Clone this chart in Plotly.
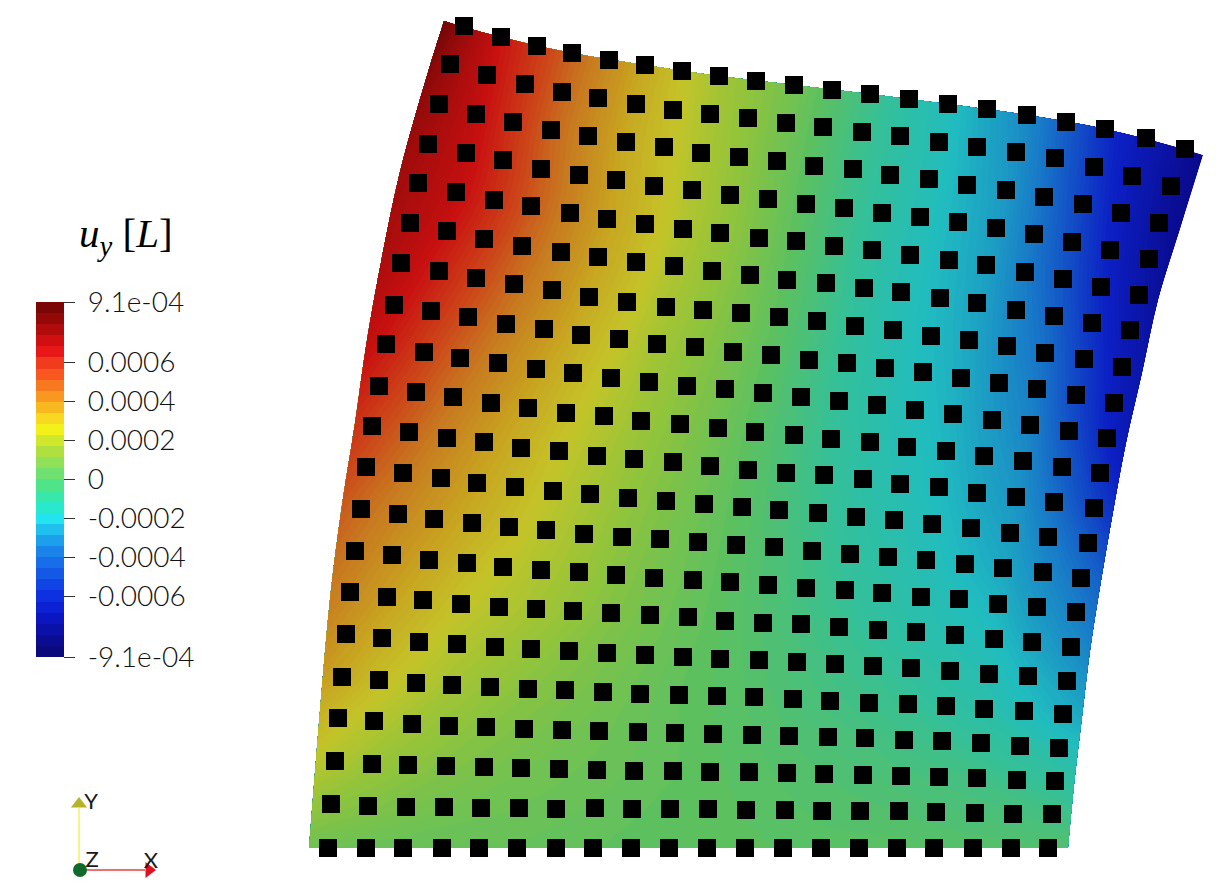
import plotly.graph_objects as go

# axes are in picture pixels, y pointing down
marker_x = [
    [464,501,537,572,609,645,682,719,756,794,832,870,909,948,987,1027,1066,1105,1146,1185],
    [450,487,525,562,598,636,673,710,748,786,823,862,900,939,977,1016,1055,1094,1132,1171],
    [439,476,513,551,588,626,664,701,739,777,814,853,890,929,967,1006,1044,1083,1121,1159],
    [428,466,503,541,579,616,654,692,730,768,806,844,882,920,958,996,1034,1072,1110,1149],
    [418,456,494,531,570,607,645,683,720,759,796,834,872,910,949,986,1025,1063,1101,1139],
    [410,447,484,522,561,598,636,674,712,750,787,826,864,901,940,977,1016,1054,1092,1130],
    [401,439,476,514,552,589,627,666,703,741,779,817,855,893,931,969,1007,1045,1084,1122],
    [394,431,468,506,544,581,619,657,695,733,771,809,847,885,923,961,999,1037,1076,1114],
    [386,424,460,498,536,573,611,649,687,725,763,801,839,877,915,953,992,1030,1069,1107],
    [379,416,453,491,528,566,604,641,680,718,755,794,831,870,907,946,984,1023,1062,1100],
    [372,409,447,484,521,559,597,634,673,710,748,786,824,863,900,939,977,1016,1054,1094],
    [366,403,441,477,515,553,590,628,666,704,742,779,818,856,894,932,971,1010,1048,1088],
    [361,398,434,472,509,546,584,622,660,698,736,774,812,850,888,926,965,1003,1043,1081],
    [355,392,429,467,503,541,579,616,654,693,730,768,806,845,882,921,959,998,1037,1076],
    [350,387,423,461,499,536,573,611,650,688,725,763,801,839,878,916,955,994,1032,1071],
    [346,382,419,457,495,531,569,607,645,683,720,759,797,835,873,911,950,989,1028,1067],
    [342,379,416,452,490,528,565,603,640,679,717,754,793,830,869,908,946,984,1024,1063],
    [338,374,412,449,486,524,562,599,638,675,713,752,789,828,865,904,942,981,1020,1059],
    [335,372,408,446,484,521,559,597,634,673,710,749,787,824,863,901,939,977,1017,1055],
    [331,368,406,444,481,519,556,595,632,670,708,746,785,822,860,899,936,975,1013,1052],
    [328,366,403,442,479,517,556,593,631,669,707,745,783,821,859,897,934,973,1011,1048],
]
marker_y = [
    [26,37,46,53,60,65,71,76,81,85,90,94,99,104,109,115,122,129,138,149],
    [64,75,84,92,98,104,110,114,118,123,127,132,136,142,147,152,158,167,176,186],
    [104,114,122,130,136,142,147,153,157,161,166,169,175,179,185,190,197,204,213,223],
    [144,153,160,169,175,180,186,190,195,199,204,208,213,217,222,228,234,242,250,259],
    [183,192,200,206,213,219,224,229,233,238,241,246,250,255,260,265,272,279,287,295],
    [223,231,239,246,252,257,262,266,271,275,280,283,288,292,298,303,310,316,323,330],
    [263,271,278,284,290,297,302,307,310,313,317,321,326,330,336,340,346,353,359,367],
    [305,311,317,324,329,335,339,344,347,352,355,360,363,368,372,378,383,389,395,403],
    [344,352,358,363,369,373,378,382,386,389,393,397,401,405,410,414,420,425,431,438],
    [386,392,397,403,408,413,416,421,424,428,432,435,439,442,447,451,456,461,467,473],
    [426,432,438,442,448,451,456,459,462,466,470,473,475,479,484,487,493,497,502,508],
    [467,473,478,483,487,491,494,498,501,504,507,510,513,517,520,524,528,533,537,543],
    [509,514,519,523,527,530,534,537,539,542,545,547,551,554,557,560,564,568,572,578],
    [551,555,560,563,567,570,572,575,578,580,582,585,588,590,593,597,599,604,607,612],
    [592,597,600,604,607,609,611,613,615,617,621,623,624,627,630,632,635,639,642,647],
    [634,638,642,644,647,649,651,653,655,657,659,660,662,664,666,668,671,674,676,681],
    [677,680,683,685,687,689,690,692,694,695,696,697,699,701,703,704,706,709,711,714],
    [718,721,724,726,727,729,730,731,732,733,734,735,736,737,738,740,741,743,746,748],
    [761,764,765,766,767,768,769,770,771,771,772,772,773,774,775,776,777,778,780,781],
    [804,806,807,807,808,808,809,808,809,809,809,810,810,811,811,811,812,813,814,814],
    [848,848,848,848,848,848,848,848,848,848,848,848,848,848,848,848,848,848,848,848],
]

# plate outline, every second marker row
left_edge_x = [444,420,399,382,367,355,342,331,323,316,309]
left_edge_y = [21,99,176,257,340,423,505,590,675,760,848]
right_edge_x = [1203,1180,1158,1142,1126,1113,1101,1090,1082,1074,1068]
right_edge_y = [155,229,300,373,443,512,581,651,717,785,848]

# u_y in units of 1e-4: left edge, marker columns 1,3,...,17, right edge
uy = [
    [9.0,6.5,4.8,3.0,1.5,0.5,-0.8,-2.2,-4.0,-6.5,-9.1],
    [8.3,6.8,4.8,3.0,1.7,0.5,-0.8,-2.0,-3.5,-6.0,-9.0],
    [7.8,6.8,5.0,3.2,1.8,0.6,-0.7,-2.0,-3.2,-5.5,-8.5],
    [7.5,6.2,4.6,3.0,1.6,0.6,-0.6,-1.9,-3.0,-4.8,-8.0],
    [6.8,5.5,4.0,2.6,1.4,0.5,-0.6,-1.7,-2.7,-4.2,-7.5],
    [5.8,4.8,3.4,2.2,1.2,0.4,-0.5,-1.5,-2.4,-3.6,-6.5],
    [5.0,4.0,2.9,1.9,1.0,0.3,-0.4,-1.2,-2.0,-3.0,-5.2],
    [4.3,3.3,2.2,1.5,0.8,0.2,-0.3,-0.9,-1.6,-2.3,-4.2],
    [3.4,2.4,1.5,0.9,0.5,0.1,-0.2,-0.6,-1.0,-1.6,-3.0],
    [2.0,1.3,0.8,0.5,0.3,0.1,-0.1,-0.3,-0.5,-0.7,-1.3],
    [0.4,0.3,0.2,0.2,0.1,0.0,0.0,-0.1,-0.1,-0.2,-0.3],
]

tick_vals = [9.1,6,4,2,0,-2,-4,-6,-9.1]
tick_text = ["9.1e-04","0.0006","0.0004","0.0002","0","-0.0002","-0.0004","-0.0006","-9.1e-04"]

# colours of the plate (shaded) and the stepped bar, bottom to top
plate_scale = [
    [0.0,"#0a0a8c"],[0.12,"#0c20c4"],[0.25,"#1878c8"],[0.37,"#20bcc0"],[0.44,"#34c098"],
    [0.5,"#5cc060"],[0.56,"#90c43c"],[0.62,"#c4c428"],[0.68,"#c8a020"],[0.74,"#c87820"],
    [0.8,"#cc4018"],[0.86,"#c81010"],[0.93,"#a00c0c"],[1.0,"#6e0606"],
]
bar_colors = [
    "#0a0a7c","#0a0c92","#0a10a8","#0b16c0","#0c20d4","#0d30e0","#1044e4","#1458e6",
    "#186ee8","#1a84ea","#1ca0ec","#20c0ee","#22e4ee","#2ae8cc","#38e8aa","#50e488",
    "#70e070","#90e058","#b0e040","#d0e82c","#f2f21a","#f8d820","#f8b820","#f89820",
    "#f87820","#f85820","#f03c1c","#e81818","#d01010","#b00c0c","#940808","#7a0606",
]
bar_scale = []
for i, c in enumerate(bar_colors):
    bar_scale.append([i / len(bar_colors), c])
    bar_scale.append([(i + 1) / len(bar_colors), c])

row_idx = list(range(0, 21, 2))
col_idx = [1, 3, 5, 7, 9, 11, 13, 15, 17]
mesh_x = [[left_edge_x[k]] + [marker_x[r][c] for c in col_idx] + [right_edge_x[k]] for k, r in enumerate(row_idx)]
mesh_y = [[left_edge_y[k]] + [marker_y[r][c] for c in col_idx] + [right_edge_y[k]] for k, r in enumerate(row_idx)]
a_vals = list(range(len(mesh_x[0])))
b_vals = list(range(len(mesh_x)))

fig = go.Figure()

hidden = dict(showgrid=False, showline=False, showticklabels="none", startline=False, endline=False,
              minorgridcount=0, smoothing=1)
fig.add_trace(go.Carpet(a=a_vals, b=b_vals, x=mesh_x, y=mesh_y, carpet="plate", aaxis=hidden, baxis=hidden))
# level start/size chosen so no level lands exactly on a table value
fig.add_trace(go.Contourcarpet(a=a_vals, b=b_vals, z=uy, carpet="plate", colorscale=plate_scale,
                               zmin=-9.1, zmax=9.1, autocontour=False, showscale=False,
                               contours=dict(start=-9.137, end=9.1, size=0.13, coloring="fill", showlines=False),
                               line=dict(width=0)))

fig.add_trace(go.Scatter(x=[v for row in marker_x for v in row], y=[v for row in marker_y for v in row],
                         mode="markers", marker=dict(symbol="square", size=18, color="black", line=dict(width=0))))

# colour bar comes from an empty trace so it can be stepped
fig.add_trace(go.Scatter(x=[None], y=[None], mode="markers",
                         marker=dict(color=[0], cmin=-9.1, cmax=9.1, colorscale=bar_scale, showscale=True,
                                     colorbar=dict(x=36/1220, xanchor="left", y=1-479.5/894, yanchor="middle",
                                                   len=355, lenmode="pixels", thickness=28, thicknessmode="pixels",
                                                   xpad=0, ypad=0, outlinewidth=0,
                                                   tickmode="array", tickvals=tick_vals,
                                                   ticktext=["\u00a0" + t for t in tick_text],
                                                   ticks="outside", ticklen=11, tickcolor="#333333", tickwidth=1,
                                                   tickfont=dict(family="Lato", size=28, weight=300, color="#111111")))))

# orientation triad
fig.add_trace(go.Scatter(x=[79,79], y=[870,808], mode="lines", line=dict(color="#f0f060", width=1.5)))
fig.add_trace(go.Scatter(x=[79,145], y=[870,870], mode="lines", line=dict(color="#e84040", width=1.5)))
fig.add_trace(go.Scatter(x=[79], y=[804], mode="markers", marker=dict(symbol="triangle-up", size=14, color="#b4b428")))
fig.add_trace(go.Scatter(x=[149], y=[870], mode="markers", marker=dict(symbol="triangle-right", size=14, color="#e01020")))
fig.add_trace(go.Scatter(x=[80], y=[870], mode="markers", marker=dict(size=14, color="#0f6b2a")))
fig.add_trace(go.Scatter(x=[91,92,151], y=[803,861,862], mode="text", text=["Y","Z","X"],
                         textfont=dict(family="Lato", size=22, color="#1a1a1a")))

fig.add_annotation(x=126, y=236, xref="x", yref="y", showarrow=False,
                   text="<i>u<sub>y</sub></i> [<i>L</i>]",
                   font=dict(family="Liberation Serif", size=41, color="black"))

fig.update_xaxes(range=[0, 1220], visible=False)
fig.update_yaxes(range=[894, 0], visible=False)
fig.update_layout(width=1220, height=894, margin=dict(l=0, r=0, t=0, b=0), showlegend=False,
                  plot_bgcolor="white", paper_bgcolor="white")

fig.write_html("out.html", config=dict(displayModeBar=False), post_script="document.body.style.margin='0';")
